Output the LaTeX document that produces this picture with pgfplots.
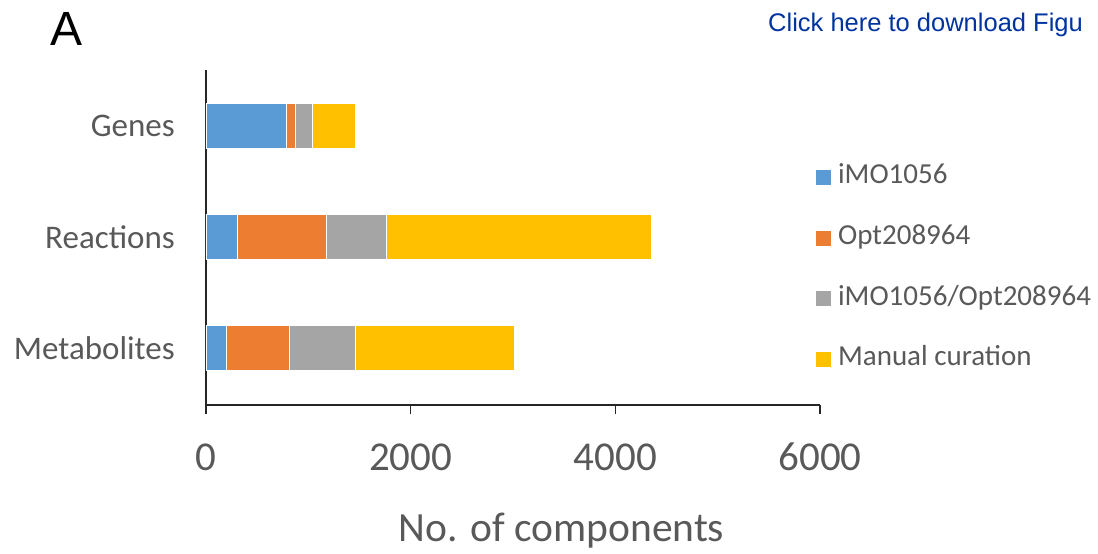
\documentclass[border=0pt]{standalone}
\usepackage{fontspec}
\setmainfont{Carlito}
\newfontfamily\arialfont{Liberation Sans}
\usepackage{pgfplots}
\usepackage{pgfplotstable}
\pgfplotsset{compat=1.18}

\definecolor{cBlue}{HTML}{5B9BD5}
\definecolor{cOrange}{HTML}{ED7D31}
\definecolor{cGray}{HTML}{A5A5A5}
\definecolor{cYellow}{HTML}{FFC000}
\definecolor{txt}{HTML}{595959}
\definecolor{linkblue}{HTML}{0033A0}

% component counts per source; y: 0 = Metabolites, 1 = Reactions, 2 = Genes
\pgfplotstableread{
y  imo   opt   both  manual
0  203   614   645   1552
1  307   873   584   2584
2  788   90    166   412
}\components

\begin{document}
\begin{tikzpicture}[x=1pt,y=1pt]
\useasboundingbox (0,0) rectangle (1098,554);
\begin{axis}[
  at={(206pt,149pt)}, anchor=south west,
  scale only axis, width=614pt, height=335pt,
  xbar stacked, bar width=45pt,
  xmin=0, xmax=6000, ymin=-0.514, ymax=2.505,
  xtick={0,2000,4000,6000},
  ytick={0,1,2}, yticklabels={Metabolites,Reactions,Genes},
  axis x line*=bottom, axis y line*=left,
  x axis line style={-, line width=1.3pt, black!85},
  y axis line style={-, line width=1.8pt, black!85},
  tick align=outside, major tick length=9pt,
  xtick style={line width=1.3pt, black!85},
  ytick style={draw=none},
  /pgf/number format/assume math mode=true,
  /pgf/number format/1000 sep={},
  xticklabel style={font=\fontsize{41}{41}\selectfont, text=txt, anchor=base, inner sep=0pt, yshift=-56pt},
  yticklabel style={font=\fontsize{33}{33}\selectfont, text=txt, anchor=east, inner sep=0pt, xshift=-22pt},
  clip=false,
  legend cell align=left,
  legend image code/.code={\fill[#1] (0pt,-8pt) rectangle (16pt,8pt);},
  legend style={draw=none, fill=none, at={(axis description cs:0.992,0.408)}, anchor=west,
    font=\fontsize{29}{29}\selectfont, text=txt, inner sep=0pt,
    row sep=29.7pt,
    nodes={inner sep=2pt, text height=20pt, text depth=7pt},
    /tikz/every odd column/.append style={column sep=4pt}},
]
\addplot[fill=cBlue, draw=white, line width=0.8pt] table[x=imo, y=y] {\components};
\addlegendentry{iMO1056}
\addplot[fill=cOrange, draw=white, line width=0.8pt] table[x=opt, y=y] {\components};
\addlegendentry{Opt208964}
\addplot[fill=cGray, draw=white, line width=0.8pt] table[x=both, y=y] {\components};
\addlegendentry{iMO1056/Opt208964}
\addplot[fill=cYellow, draw=white, line width=0.8pt] table[x=manual, y=y] {\components};
\addlegendentry{Manual curation}
\end{axis}
\node[anchor=base, inner sep=0pt, text=txt, font=\fontsize{41.5}{41.5}\selectfont] at (561.5,12.3) {No. of components};
\node[anchor=base west, inner sep=0pt, font=\arialfont\fontsize{48}{48}\selectfont] at (50,508.3) {A};
\node[anchor=base west, inner sep=0pt, text=linkblue, font=\arialfont\fontsize{25.5}{25.5}\selectfont] at (768,522.3) {Click here to download Figu};
\end{tikzpicture}
\end{document}
